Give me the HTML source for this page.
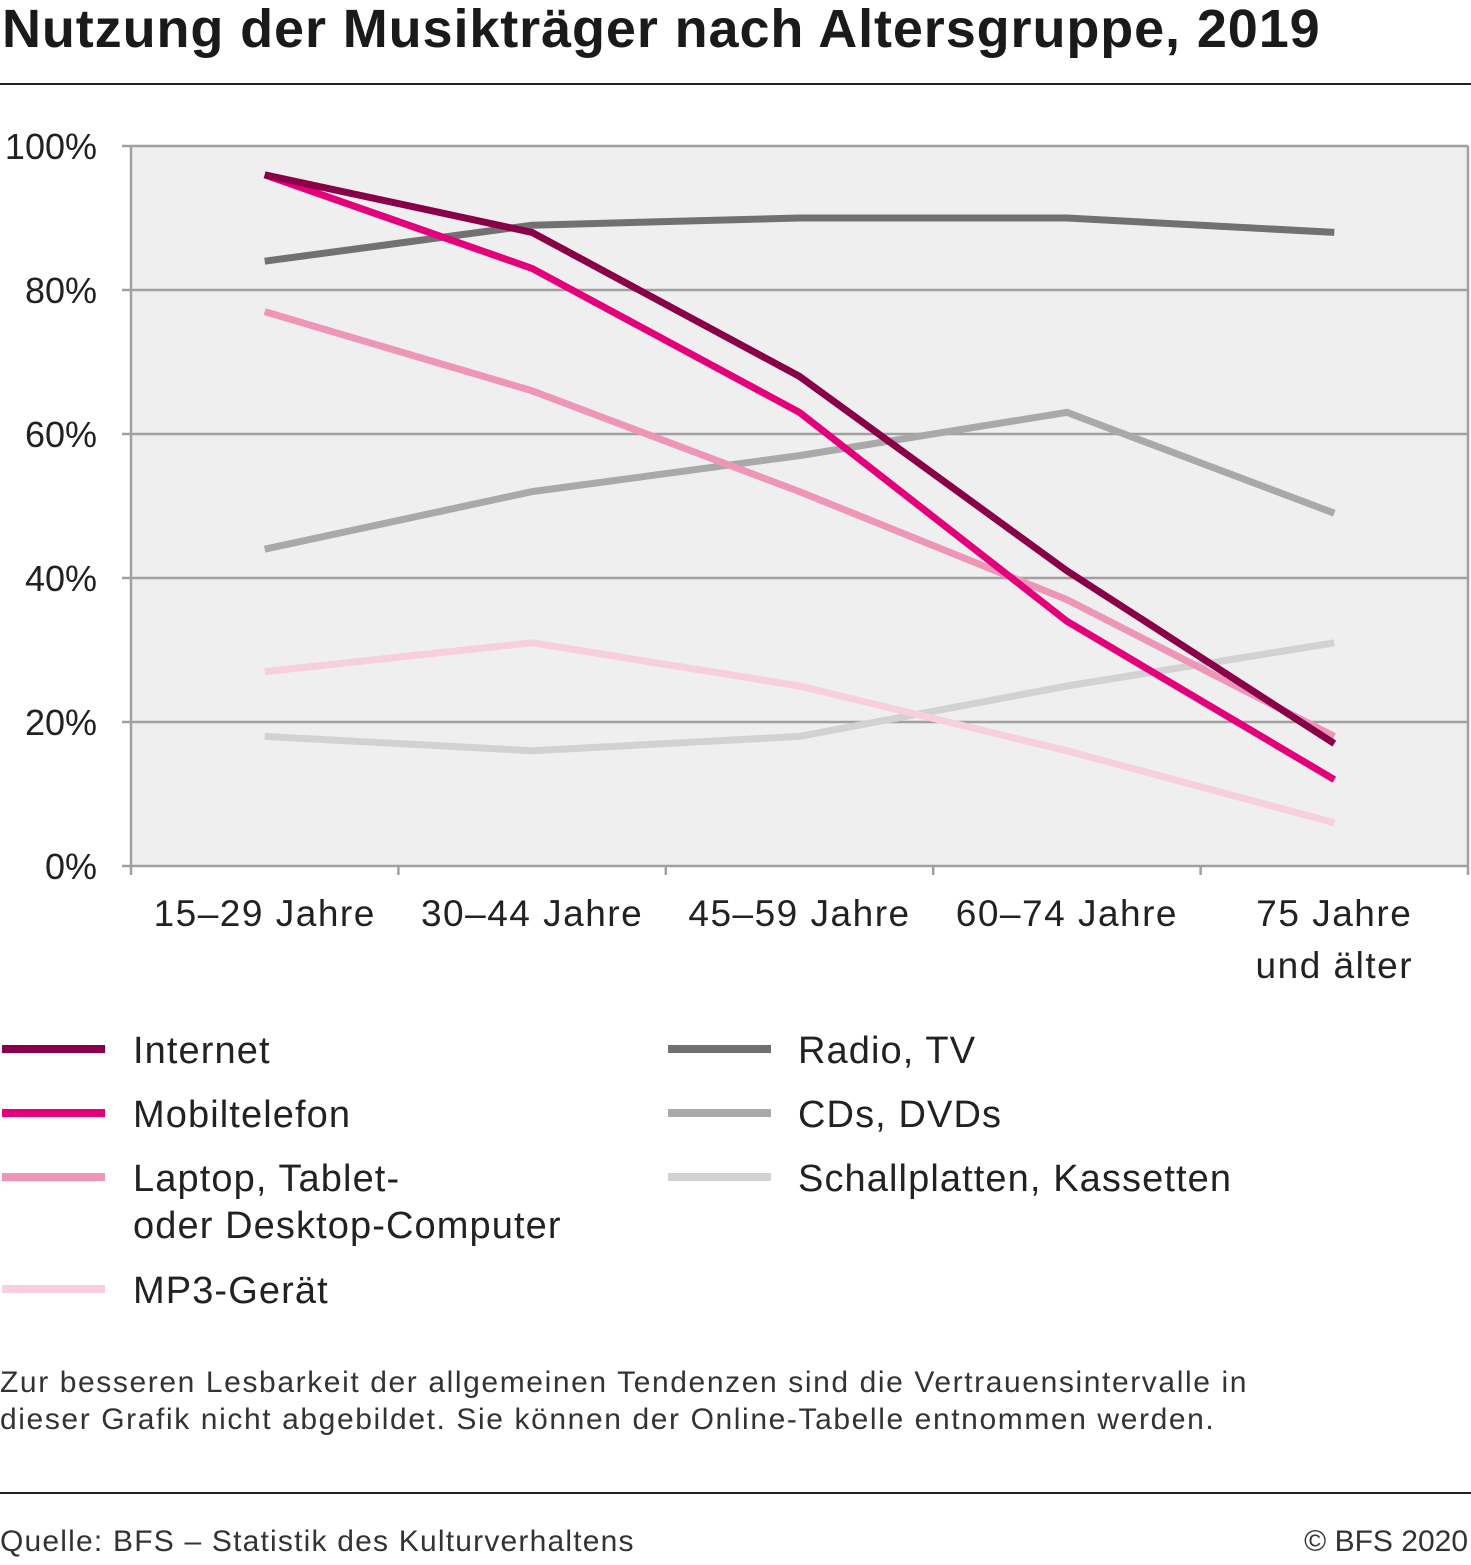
<!DOCTYPE html>
<html><head><meta charset="utf-8"><style>
body{margin:0;width:1471px;height:1565px;background:#fff;overflow:hidden;font-family:"Liberation Sans",sans-serif;color:#222}
.t{position:absolute;white-space:nowrap}
</style></head><body>
<div class="t" style="left:2px;top:-2px;font-size:54px;font-weight:bold;color:#1a1a1a;letter-spacing:0.9px">Nutzung der Musikträger nach Altersgruppe, 2019</div>
<div style="position:absolute;left:0;top:83px;width:1471px;height:2px;background:#222"></div>
<svg id="chart" width="1471" height="1000" style="position:absolute;left:0;top:0"></svg>
<div class="t" style="left:0;top:1364px;font-size:30px;line-height:37px;color:#333;letter-spacing:1.6px">Zur besseren Lesbarkeit der allgemeinen Tendenzen sind die Vertrauensintervalle in<br>dieser Grafik nicht abgebildet. Sie können der Online-Tabelle entnommen werden.</div>
<div style="position:absolute;left:0;top:1492px;width:1471px;height:2px;background:#222"></div>
<div class="t" style="left:0;top:1525px;font-size:30px;color:#333;letter-spacing:1.2px">Quelle: BFS – Statistik des Kulturverhaltens</div>
<div class="t" style="right:3px;top:1525px;font-size:30px;color:#333">© BFS 2020</div>
<script>
const categories=["15–29 Jahre","30–44 Jahre","45–59 Jahre","60–74 Jahre","75 Jahre|und älter"];
const yTicks=[0,20,40,60,80,100];
const seriesNames=["Internet","Mobiltelefon","Laptop, Tablet-|oder Desktop-Computer","MP3-Gerät","Radio, TV","CDs, DVDs","Schallplatten, Kassetten"];
const seriesColors=["#8a0048","#e3007a","#ee96b7","#f7cfdf","#717171","#a9a9a9","#d2d2d2"];
const internet=[96,88,68,41,17];
const mobil=[96,83,63,34,12];
const laptop=[77,66,52,37,18];
const mp3=[27,31,25,16,6];
const radio=[84,89,90,90,88];
const cds=[44,52,57,63,49];
const platten=[18,16,18,25,31];
const seriesValues=[internet,mobil,laptop,mp3,radio,cds,platten];
const drawOrder=[6,3,5,4,2,1,0];

const NS="http://www.w3.org/2000/svg";
const svg=document.getElementById('chart');
const L=131,R=1468,T=146,B=866;
const bw=(R-L)/categories.length;
const x=i=>L+bw*(i+0.5);
const y=v=>B-(v/100)*(B-T);
function mk(tag,attrs,txt){const e=document.createElementNS(NS,tag);for(const k in attrs)e.setAttribute(k,attrs[k]);if(txt!=null)e.textContent=txt;svg.appendChild(e);return e;}
const bg=mk('rect',{x:L,y:T,width:R-L,height:B-T,fill:'#efefef'});


yTicks.forEach(v=>{
  const g=mk('line',{x1:122,x2:R,y1:y(v),y2:y(v),stroke:'#a0a0a0','stroke-width':2.5});
  
  
  const t=mk('text',{x:97,y:y(v)+13,'text-anchor':'end','font-size':36,fill:'#222'},v+'%');
  
  
});
const ax=mk('line',{x1:L,x2:L,y1:T,y2:875,stroke:'#a0a0a0','stroke-width':2.5});


const rb=mk('line',{x1:R,x2:R,y1:T,y2:875,stroke:'#a0a0a0','stroke-width':2.5});


for(let i=1;i<categories.length;i++){
  const tk=mk('line',{x1:L+bw*i,x2:L+bw*i,y1:B,y2:875,stroke:'#a0a0a0','stroke-width':2.5});
  
  
}
categories.forEach((c,i)=>{
  const parts=c.split('|');
  parts.forEach((p,j)=>{
    const t=mk('text',{x:x(i),y:926+j*52,'text-anchor':'middle','font-size':37,'letter-spacing':1.5,fill:'#222'},p);
    
    
  });
});
drawOrder.forEach(s=>{
  const pts=seriesValues[s].map((v,i)=>x(i)+','+y(v)).join(' ');
  const pl=mk('polyline',{points:pts,fill:'none',stroke:seriesColors[s],'stroke-width':7,'stroke-linejoin':'miter'});
  
  
});
const legY=[1049,1113,1177,1289,1049,1113,1177];
seriesNames.forEach((n,s)=>{
  const col=s<4?0:1;
  const lx=col?668:2, tx=col?798:133;
  const d=document.createElement('div');
  d.style.cssText=`position:absolute;left:${lx}px;top:${legY[s]-4}px;width:103px;height:8px;background:${seriesColors[s]}`;
  
  
  document.body.appendChild(d);
  const t=document.createElement('div');
  t.className='t';
  t.style.cssText=`left:${tx}px;top:${legY[s]-21}px;font-size:38px;line-height:47px;color:#222;letter-spacing:1.1px`;
  t.innerHTML=n.split('|').join('<br>');
  
  
  document.body.appendChild(t);
});
</script>
</body></html>
